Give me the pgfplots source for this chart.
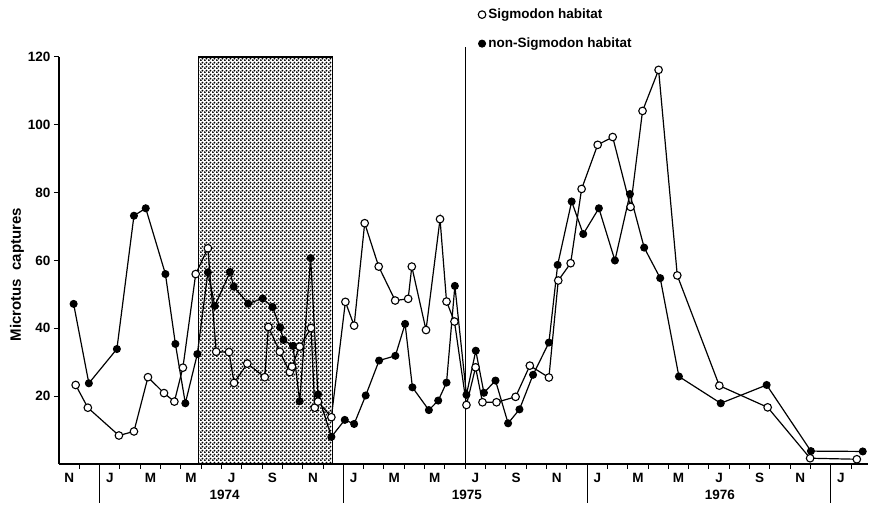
\documentclass[border=0pt]{standalone}
\usepackage{fontspec}
\setmainfont{Liberation Sans}
\usepackage{pgfplots}
\pgfplotsset{compat=1.18}
\usetikzlibrary{patterns}

\pgfdeclarepatternformonly{mydots}{\pgfqpoint{0pt}{0pt}}{\pgfqpoint{4pt}{4pt}}{\pgfqpoint{4pt}{4pt}}{%
  \pgfpathcircle{\pgfqpoint{1pt}{1pt}}{1.25pt}%
  \pgfpathcircle{\pgfqpoint{3pt}{3pt}}{1.25pt}%
  \pgfusepath{fill}}

\pgfplotstableread{
m v
-1.18 23.3
-0.58 16.6
0.95 8.4
1.69 9.6
2.38 25.6
3.17 20.9
3.68 18.4
4.10 28.4
4.73 56.0
5.33 63.6
5.74 33.1
6.37 33.0
6.62 23.9
7.27 29.6
8.13 25.6
8.31 40.4
8.87 33.1
9.36 27.1
9.47 28.7
9.85 34.6
10.41 40.1
10.59 16.6
10.75 18.4
11.41 13.8
12.10 47.8
12.53 40.8
13.05 71.0
13.74 58.2
14.55 48.2
15.19 48.7
15.37 58.2
16.07 39.5
16.76 72.2
17.08 47.9
17.47 42.0
18.06 17.4
18.51 28.5
18.85 18.2
19.54 18.2
20.48 19.8
21.18 29.0
22.12 25.5
22.58 54.1
23.19 59.2
23.73 81.1
24.52 94.1
25.26 96.4
26.14 75.8
26.73 104.1
27.52 116.2
28.44 55.6
30.51 23.1
32.89 16.7
34.98 1.7
37.28 1.4
}\sigmodon

\pgfplotstableread{
m v
-1.28 47.2
-0.53 23.8
0.85 33.9
1.69 73.2
2.27 75.4
3.24 56.0
3.73 35.4
4.22 17.9
4.81 32.4
5.33 56.5
5.67 46.6
6.42 56.6
6.60 52.3
7.31 47.3
8.03 48.8
8.51 46.3
8.89 40.3
9.05 36.6
9.52 34.8
9.85 18.5
10.39 60.7
10.75 20.5
11.41 8.0
12.07 13.0
12.53 11.8
13.10 20.2
13.76 30.5
14.56 31.9
15.04 41.3
15.40 22.6
16.21 15.9
16.67 18.7
17.08 24.0
17.49 52.5
18.06 20.4
18.52 33.4
18.92 21.0
19.49 24.6
20.11 12.0
20.67 16.1
21.34 26.3
22.12 35.8
22.55 58.7
23.24 77.4
23.81 67.8
24.58 75.4
25.37 60.0
26.11 79.6
26.81 63.8
27.60 54.8
28.52 25.8
30.58 17.9
32.84 23.3
35.02 3.8
37.57 3.7
}\nonsigmodon

\begin{document}
\begin{tikzpicture}
\def\lfont{\bfseries\fontsize{13.5}{14}\selectfont}
\begin{axis}[
  scale only axis, width=809pt, height=407pt,
  xmin=-2, xmax=37.83, ymin=0, ymax=120,
  axis x line=bottom, axis y line=left,
  axis line style={-, line width=1.2pt},
  clip=false,
  tick align=outside,
  major tick length=5pt,
  every tick/.style={black, line width=1pt},
  /pgf/number format/assume math mode=true,
  tick label style={font=\lfont},
  ytick={20,40,...,120},
  xtick={-1,0,...,37}, xticklabels={},
  extra x ticks={-1.5,0.5,...,36.5},
  extra x tick labels={N,J,M,M,J,S,N,J,M,M,J,S,N,J,M,M,J,S,N,J},
  extra x tick style={major tick length=0pt, tick label style={yshift=-6pt}},
  reverse legend,
  legend cell align=left,
  legend style={at={(rel axis cs:0.518,1.123)}, anchor=north west, draw=none, fill=none,
    font=\lfont, row sep=14pt, column sep=1.5pt, inner sep=0pt,
    nodes={inner sep=1pt, text height=10pt, text depth=3pt}},
  legend image code/.code={\draw[#1] plot coordinates {(0pt,0pt)};},
]
\draw[pattern=mydots, line width=1.2pt] (axis cs:4.88,0) rectangle (axis cs:11.48,120);
\draw[line width=1.2pt] (axis cs:18,0) -- (axis cs:18,123);
\pgfplotsinvokeforeach{0,12,24,36}{
  \draw[line width=1pt] (axis cs:#1,0) -- ([yshift=-39pt]axis cs:#1,0);
}
\node[font=\lfont] at ([yshift=-31pt]axis cs:6.16,0) {1974};
\node[font=\lfont] at ([yshift=-31pt]axis cs:18.08,0) {1975};
\node[font=\lfont] at ([yshift=-31pt]axis cs:30.54,0) {1976};
\node[font=\bfseries\fontsize{15}{16}\selectfont, rotate=90] at ([xshift=-42pt]axis cs:-2,55.8) {Microtus\ \ captures};

\addplot[black, line width=1.2pt, mark=*, mark size=3.4pt, mark options={fill=black}]
  table[x=m, y=v] {\nonsigmodon};
\addlegendentry{non-Sigmodon habitat}
\addplot[black, line width=1.2pt, mark=*, mark size=3.8pt, mark options={fill=white, line width=1.1pt}]
  table[x=m, y=v] {\sigmodon};
\addlegendentry{Sigmodon habitat}
\end{axis}
\pgfresetboundingbox
\path (-59pt,-41pt) rectangle (811pt,464pt);
\end{tikzpicture}
\end{document}
